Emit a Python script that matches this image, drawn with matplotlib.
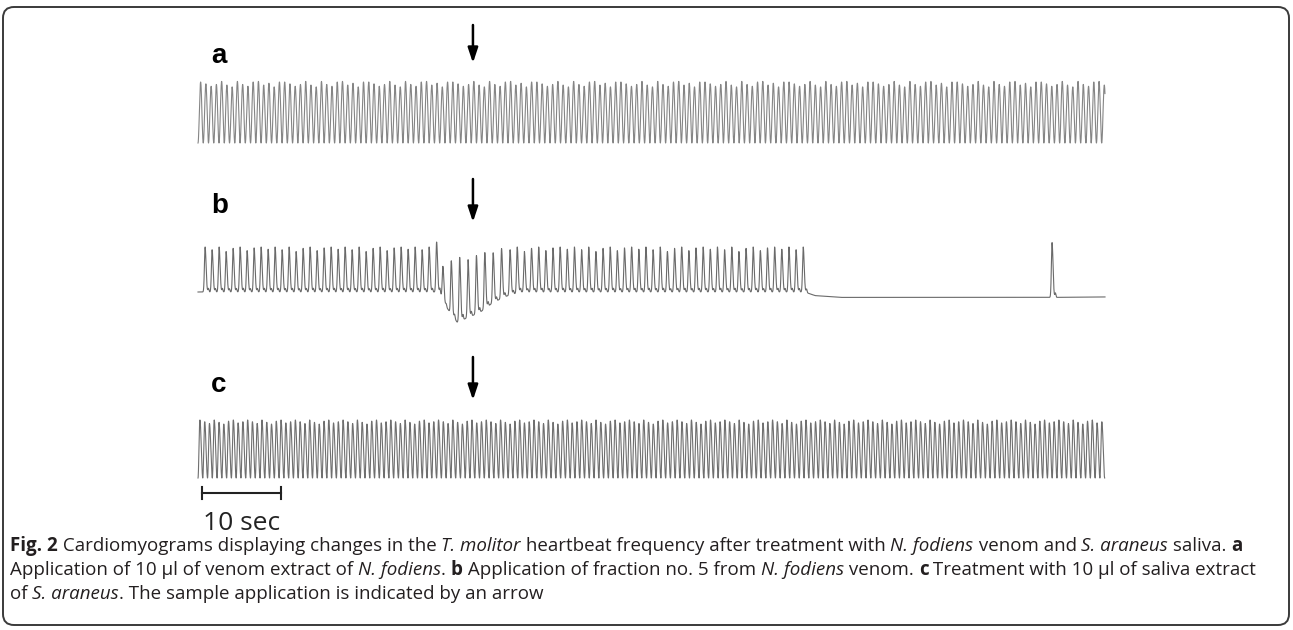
import numpy as np
import matplotlib
matplotlib.use("Agg")
import matplotlib.pyplot as plt
from matplotlib.patches import FancyBboxPatch
from matplotlib.transforms import blended_transform_factory

# ---------------- data ----------------
DURATION = 114.8            # s, recording length shown
APPLICATION_TIME = 34.8     # s, arrow position (sample application)
SCALE_BAR_SEC = 10
panel_labels = ["a", "b", "c"]

# trace a: regular beating, venom extract of N. fodiens
a_period = 0.665            # s per beat
a_n_beats = 173
a_peak_var = [0.0, -0.03, -0.07, -0.04, 0.01, -0.05, -0.08, 0.01,
              -0.04, -0.07, 0.0, 0.01, -0.05, -0.02, -0.08, 0.0]

# trace b: fraction no. 5 -> transient dip, then cardiac arrest
b_seg_start = [0.9, 31.0, 39.5]       # s
b_seg_count = [33, 8, 42]
b_seg_period = [0.886, 1.06, 0.905]   # s
b_extra_beats = [(30.2, 1.11), (108.1, 1.10)]   # (time s, peak height)
b_base_t = [0.0, 30.1, 30.6, 31.5, 32.8, 34.4, 35.7, 37.3, 38.9, 40.8, 76.8, 78.1, 81.3, 108.0, 114.8]
b_base_v = [0.0, 0.0, 0.0, -0.35, -0.67, -0.55, -0.45, -0.24, -0.10, 0.0, 0.0, -0.08, -0.12, -0.12, -0.11]
b_top_t = [0.0, 30.9, 31.0, 32.8, 35.0, 38.0, 39.5, 114.8]
b_top_v = [1.0, 1.0, 0.67, 0.76, 0.82, 0.95, 1.0, 1.0]
b_peak_var = [0.0, -0.06, 0.0, -0.1, -0.03, 0.0, -0.08, -0.02, 0.0, -0.05]

# trace c: saliva extract of S. araneus
c_period = 0.604
c_n_beats = 190
c_peak_var = [0.0, -0.03, -0.06, 0.0, -0.04, -0.07, -0.02, 0.0, -0.05, -0.03]

caption_lines = [
    [("Fig. 2", "bold"), (" Cardiomyograms displaying changes in the ", "normal"),
     ("T. molitor", "italic"), (" heartbeat frequency after treatment with ", "normal"),
     ("N. fodiens", "italic"), (" venom and ", "normal"), ("S. araneus", "italic"),
     (" saliva. ", "normal"), ("a", "bold")],
    [("Application of 10 \u00b5l of venom extract of ", "normal"), ("N. fodiens", "italic"),
     (". ", "normal"), ("b", "bold"), (" Application of fraction no. 5 from ", "normal"),
     ("N. fodiens", "italic"), (" venom. ", "normal"), ("c", "bold"),
     (" Treatment with 10 \u00b5l of saliva extract", "normal")],
    [("of ", "normal"), ("S. araneus", "italic"),
     (". The sample application is indicated by an arrow", "normal")],
]
scale_label = "10 sec"

# ---------------- figure ----------------
W, H = 1293, 630
fig = plt.figure(figsize=(W / 100, H / 100), dpi=100)

# pixel-space background axes for frame and caption
bg = fig.add_axes([0, 0, 1, 1])
bg.set_xlim(0, W)
bg.set_ylim(H, 0)
bg.axis("off")
bg.add_patch(FancyBboxPatch((3, 7), 1286, 618,
                            boxstyle="round,pad=0,rounding_size=11",
                            fc="white", ec="#3a3a3a", lw=1.4))

X0, X1 = 198, 1105


def add_trace_axes(y_top_px, y_bot_px, ylim):
    ax = fig.add_axes([X0 / W, 1 - y_bot_px / H, (X1 - X0) / W, (y_bot_px - y_top_px) / H])
    ax.set_xlim(0, DURATION)
    ax.set_ylim(*ylim)
    ax.axis("off")
    return ax


def periodic_wave(t, period, n_beats, var, rise):
    y = np.zeros_like(t)
    k = np.floor(t / period).astype(int)
    p = t / period - k
    amp = np.array([1.0 + var[i % len(var)] for i in range(n_beats + 1)])
    a = amp[np.clip(k, 0, n_beats)]
    up = p < rise
    y[up] = a[up] * (0.5 - 0.5 * np.cos(np.pi * p[up] / rise))
    dn = ~up
    y[dn] = a[dn] * (0.5 + 0.5 * np.cos(np.pi * (p[dn] - rise) / (1 - rise)))
    return y


# trace a
ax_a = add_trace_axes(82, 143, (0, 1))
ta = np.linspace(0, a_n_beats * a_period, 12000)
ta = ta[ta <= DURATION]
ax_a.plot(ta, periodic_wave(ta, a_period, a_n_beats, a_peak_var, 0.5),
          color="#858585", lw=0.8, clip_on=False)

# trace b
ax_b = add_trace_axes(247, 292, (0, 1))
tb = np.linspace(0, DURATION, 24000)
base = np.interp(tb, b_base_t, b_base_v)
yb = base.copy()
beats = []
i_var = 0
for s0, n, per in zip(b_seg_start, b_seg_count, b_seg_period):
    for j in range(n):
        t0 = s0 + j * per
        top = np.interp(t0, b_top_t, b_top_v) + b_peak_var[i_var % len(b_peak_var)]
        i_var += 1
        beats.append((t0, top - np.interp(t0, b_base_t, b_base_v)))
for t0, top in b_extra_beats:
    beats.append((t0, top - np.interp(t0, b_base_t, b_base_v)))
for t0, amp in beats:
    dt = tb - t0
    shape = np.where(dt < 0, np.exp(-(dt / 0.12) ** 2), np.exp(-(dt / 0.17) ** 2))
    shape += 0.08 * np.exp(-((dt - 0.42) / 0.09) ** 2)
    yb += amp * shape
ax_b.plot(tb, yb, color="#6a6a6a", lw=0.8, clip_on=False)

# trace c
ax_c = add_trace_axes(420, 478, (0, 1))
tc = np.linspace(0, c_n_beats * c_period, 14000)
tc = tc[tc <= DURATION]
ax_c.plot(tc, periodic_wave(tc, c_period, c_n_beats, c_peak_var, 0.4),
          color="#6f6f6f", lw=0.8, clip_on=False)

# panel labels and arrows
label_baselines = [63, 213, 392]
arrow_spans = [(25, 63), (179, 222), (357, 400)]
for ax, lab, yb_px, (y0, y1) in zip([ax_a, ax_b, ax_c], panel_labels, label_baselines, arrow_spans):
    bg.text(211, yb_px, lab, fontsize=20, fontweight="bold", family="Liberation Sans",
            va="baseline", ha="left")
    ax.annotate("", xy=(APPLICATION_TIME, 1 - y1 / H), xytext=(APPLICATION_TIME, 1 - y0 / H),
                xycoords=("data", "figure fraction"), textcoords=("data", "figure fraction"),
                arrowprops=dict(arrowstyle="-|>,head_length=0.9,head_width=0.3",
                                lw=1.8, color="black", shrinkA=0, shrinkB=0),
                annotation_clip=False)

# scale bar
tr = blended_transform_factory(ax_c.transData, fig.transFigure)
xs0, xs1 = 0.5, 0.5 + SCALE_BAR_SEC
yb_bar = 1 - 493 / H
ax_c.plot([xs0, xs1], [yb_bar, yb_bar], color="#222222", lw=1.5, transform=tr, clip_on=False)
for xx in (xs0, xs1):
    ax_c.plot([xx, xx], [1 - 487 / H, 1 - 499 / H], color="#222222", lw=1.5,
              transform=tr, clip_on=False)
ax_c.text((xs0 + xs1) / 2, 1 - 523 / H, scale_label, transform=tr, ha="center", va="center",
          fontsize=19, family="Open Sans", color="#222222")

# caption with mixed styles
renderer = fig.canvas.get_renderer()


def run_width(runs, size):
    total = 0
    for s, style in runs:
        t = bg.text(0, 0, s, fontsize=size, family="Open Sans",
                    fontweight="bold" if style == "bold" else "normal",
                    fontstyle="italic" if style == "italic" else "normal")
        total += t.get_window_extent(renderer).width
        t.remove()
    return total


cap_size = 14 * 1240 / run_width(caption_lines[0], 14)
cap_y = [546, 570, 594]
for runs, y in zip(caption_lines, cap_y):
    x = 10
    for s, style in runs:
        t = bg.text(x, y, s, fontsize=cap_size, family="Open Sans", va="center", ha="left",
                    color="#231f20",
                    fontweight="bold" if style == "bold" else "normal",
                    fontstyle="italic" if style == "italic" else "normal")
        bb = t.get_window_extent(renderer)
        x += bb.width

fig.savefig("out.png", dpi=100)
